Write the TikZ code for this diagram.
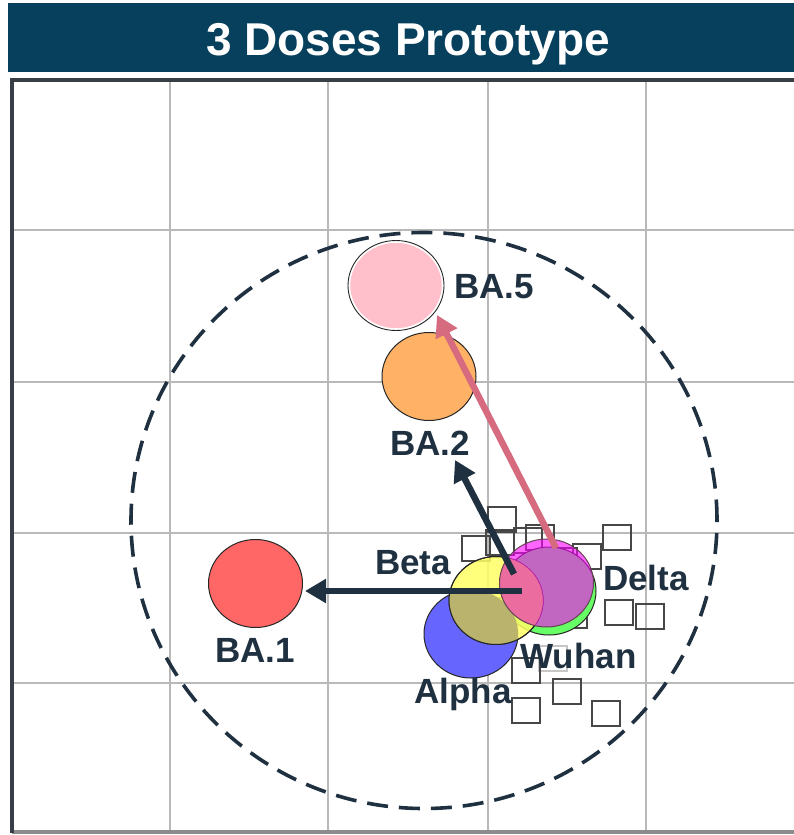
\documentclass[tikz,border=0pt]{standalone}
\usepackage{fontspec}
\setmainfont{Liberation Sans}
\usetikzlibrary{arrows.meta,shapes.geometric}
\definecolor{titlebg}{RGB}{6,64,92}
\definecolor{navy}{RGB}{31,48,64}
\definecolor{gridgray}{RGB}{185,185,185}
\definecolor{framedark}{RGB}{55,62,70}
\definecolor{framelow}{RGB}{140,140,140}
\definecolor{pinkarrow}{RGB}{214,107,128}
\definecolor{ba5fill}{RGB}{255,192,203}
\definecolor{ba2fill}{RGB}{255,178,102}
\definecolor{ba1fill}{RGB}{255,102,102}
\definecolor{alphafill}{RGB}{102,102,255}
\definecolor{betafill}{RGB}{255,255,102}
\definecolor{olivefill}{RGB}{182,174,108}
\definecolor{wuhanfill}{RGB}{102,255,102}
\definecolor{deltafill}{RGB}{255,0,255}
\definecolor{overlappink}{RGB}{234,110,152}
\begin{document}
\begin{tikzpicture}[x=1pt,y=-1pt,
  lbl/.style={font=\fontsize{35}{35}\selectfont\bfseries, text=navy, anchor=base, inner sep=0pt},
  serum/.style={rectangle, draw=black!72, line width=2pt, minimum width=28pt, minimum height=25pt, inner sep=0pt},
  antigen/.style={ellipse, minimum width=94pt, minimum height=88pt, inner sep=0pt, draw=black!85, line width=1pt},
  arr/.style={line width=6.5pt, -{Triangle[length=21pt,width=23pt]}},
  gridline/.style={draw=gridgray, line width=2.2pt},
]
\useasboundingbox (0,0) rectangle (794,835);
\fill[white] (0,0) rectangle (794,835);

% title bar
\fill[titlebg] (8,3) rectangle (794,72);
\node[font=\fontsize{46}{46}\selectfont\bfseries, text=white, anchor=base, inner sep=0pt] (title) at (408,55) {3 Doses Prototype};

% grid
\foreach \gx in {170,328,488,646} \draw[gridline] (\gx,80) -- (\gx,832);
\foreach \gy in {230,382,533,683} \draw[gridline] (12,\gy) -- (794,\gy);

% frame
\draw[framelow, line width=3.5pt] (12,832) -- (794,832);
\draw[framedark, line width=3.5pt] (794,80) -- (12,80) -- (12,833);

% dashed circle
\draw[navy, line width=3.6pt, dash pattern=on 21pt off 11pt] (424,520.5) ellipse [x radius=293pt, y radius=288pt];

% sera
\foreach \n/\sx/\sy in {s1/502/519, s2/476/548, s3/500/542, s4/528/540, s5/540/537, s6/587/556, s7/617/537, s8/563/560,
  s9/619/612, s10/650/616, s11/573/615, s12/492/610, s13/503/622, s15/526/670, s16/567/691, s17/526/710, s18/606/713}
  \node[serum] (\n) at (\sx,\sy) {};
\node[serum, draw opacity=0.3] (s14) at (553,658) {};

% antigens
\node[antigen, fill=ba1fill] (ba1) at (255.5,583.5) {};
\node[antigen, fill=ba2fill] (ba2) at (429,376.5) {};
\node[antigen, fill=ba5fill, draw=white, line width=2.5pt] (ba5) at (396,285.5) {};
\draw[black!85, line width=0.9pt] (ba5.center) ellipse [x radius=48pt, y radius=45pt];
\node[antigen, fill=wuhanfill] (wuhan) at (549,591) {};
\node[antigen, fill=alphafill] (alpha) at (471,634) {};
\node[antigen, fill=betafill, fill opacity=0.85] (beta) at (496,600.5) {};
\begin{scope}
  \clip (471,634) ellipse [x radius=47pt, y radius=44pt];
  \fill[olivefill, fill opacity=0.9] (496,600.5) ellipse [x radius=47pt, y radius=44pt];
\end{scope}
\draw[black!85, line width=1pt] (beta.center) ellipse [x radius=47pt, y radius=44pt];
\node[antigen, fill=deltafill, fill opacity=0.6, draw=none] (delta) at (546.5,583) {};
\begin{scope}
  \clip (496,600.5) ellipse [x radius=47pt, y radius=44pt];
  \fill[overlappink, fill opacity=0.85] (546.5,583) ellipse [x radius=47pt, y radius=44pt];
\end{scope}
\draw[black!70!magenta, line width=1pt] (delta.center) ellipse [x radius=47pt, y radius=44pt];

% arrows
\coordinate (a1s) at (522,591);
\coordinate (a1e) at (305,591);
\coordinate (a2s) at (514,574);
\coordinate (a2e) at (455,460);
\coordinate (a3s) at (556,548);
\coordinate (a3e) at (437,315);
\draw[arr, navy] (a1s) -- (a1e);
\draw[arr, navy] (a2s) -- (a2e);
\draw[arr, pinkarrow] (a3s) -- (a3e);

% labels
\node[lbl] (lba5) at (494,298) {BA.5};
\node[lbl] (lba2) at (430,455) {BA.2};
\node[lbl] (lba1) at (255,662) {BA.1};
\node[lbl] (lbeta) at (413,574) {Beta};
\node[lbl] (ldelta) at (646,590) {Delta};
\node[lbl] (lwuhan) at (578.5,668) {Wuhan};
\node[lbl] (lalpha) at (463,703) {Alpha};
\end{tikzpicture}
\end{document}
